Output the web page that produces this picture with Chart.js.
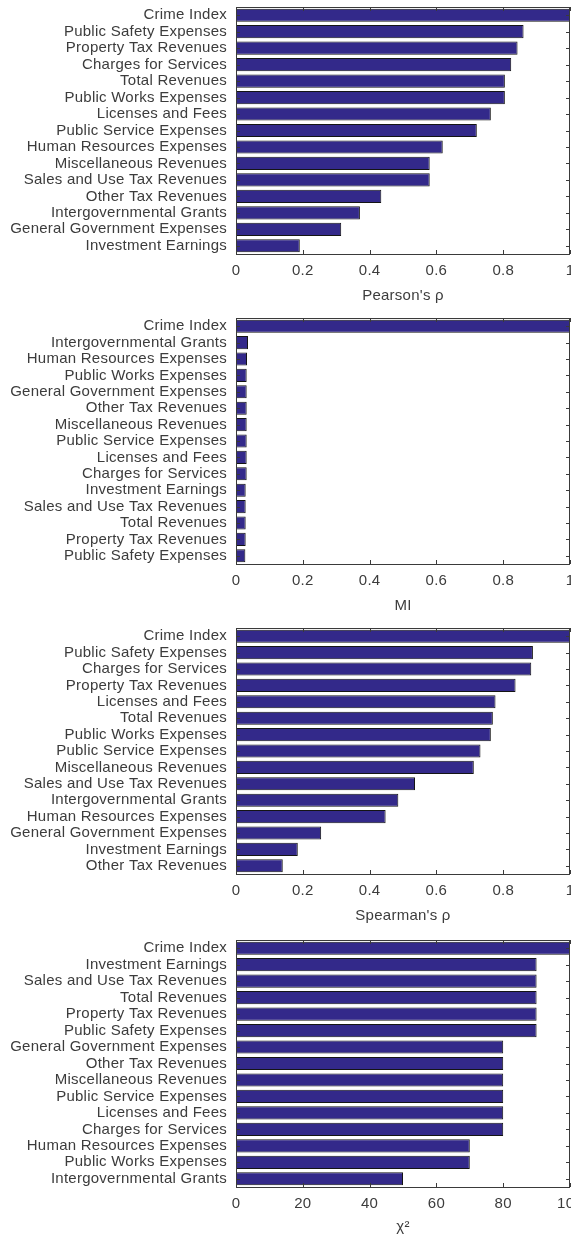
<!DOCTYPE html>
<html>
<head>
<meta charset="utf-8">
<title>Feature ranking</title>
<script src="https://cdn.jsdelivr.net/npm/chart.js@4/dist/chart.umd.min.js"></script>
<style>
  html, body { margin: 0; padding: 0; background: #fff; overflow: hidden; }
  canvas { display: block; }
</style>
</head>
<body>
<canvas id="pearson" width="590" height="310"></canvas>
<canvas id="mi" width="590" height="310"></canvas>
<canvas id="spearman" width="590" height="310"></canvas>
<canvas id="chi2" width="590" height="311"></canvas>
<script>
// Pearson correlation with the crime index
const pearsonLabels = [
  'Crime Index', 'Public Safety Expenses', 'Property Tax Revenues', 'Charges for Services',
  'Total Revenues', 'Public Works Expenses', 'Licenses and Fees', 'Public Service Expenses',
  'Human Resources Expenses', 'Miscellaneous Revenues', 'Sales and Use Tax Revenues',
  'Other Tax Revenues', 'Intergovernmental Grants', 'General Government Expenses', 'Investment Earnings'
];
const pearsonValues = [1, 0.861, 0.843, 0.824, 0.805, 0.805, 0.763, 0.721, 0.619, 0.58, 0.58, 0.435, 0.371, 0.315, 0.191];

// mutual information
const miLabels = [
  'Crime Index', 'Intergovernmental Grants', 'Human Resources Expenses', 'Public Works Expenses',
  'General Government Expenses', 'Other Tax Revenues', 'Miscellaneous Revenues', 'Public Service Expenses',
  'Licenses and Fees', 'Charges for Services', 'Investment Earnings', 'Sales and Use Tax Revenues',
  'Total Revenues', 'Property Tax Revenues', 'Public Safety Expenses'
];
const miValues = [1, 0.036, 0.033, 0.032, 0.032, 0.032, 0.032, 0.032, 0.032, 0.032, 0.029, 0.029, 0.029, 0.029, 0.028];

// Spearman rank correlation
const spearmanLabels = [
  'Crime Index', 'Public Safety Expenses', 'Charges for Services', 'Property Tax Revenues',
  'Licenses and Fees', 'Total Revenues', 'Public Works Expenses', 'Public Service Expenses',
  'Miscellaneous Revenues', 'Sales and Use Tax Revenues', 'Intergovernmental Grants',
  'Human Resources Expenses', 'General Government Expenses', 'Investment Earnings', 'Other Tax Revenues'
];
const spearmanValues = [1, 0.889, 0.884, 0.837, 0.777, 0.769, 0.763, 0.732, 0.712, 0.536, 0.486, 0.448, 0.255, 0.185, 0.14];

// chi-squared score
const chiLabels = [
  'Crime Index', 'Investment Earnings', 'Sales and Use Tax Revenues', 'Total Revenues',
  'Property Tax Revenues', 'Public Safety Expenses', 'General Government Expenses', 'Other Tax Revenues',
  'Miscellaneous Revenues', 'Public Service Expenses', 'Licenses and Fees', 'Charges for Services',
  'Human Resources Expenses', 'Public Works Expenses', 'Intergovernmental Grants'
];
const chiValues = [100, 90, 90, 90, 90, 90, 80, 80, 80, 80, 80, 80, 70, 70, 50];

const barColor = '#33298a';
const edgeColor = '#141414';
const axisColor = '#3a3a3a';
const textColor = '#3c3c3c';
const font = { family: '"Liberation Sans", Arial, Helvetica, sans-serif', size: 15 };

// closed box around the plot with short inward ticks, like the old plotting style
const boxPlugin = {
  id: 'box',
  beforeDraw(chart) {
    // slightly looser text, closer to the screen font of the original plots
    chart.ctx.letterSpacing = '0.25px';
  },
  afterDatasetsDraw(chart) {
    const { ctx, chartArea: a, scales: { x, y } } = chart;
    const len = 4;
    ctx.save();
    ctx.strokeStyle = axisColor;
    ctx.lineWidth = 1;
    ctx.beginPath();
    x.ticks.forEach((t, i) => {
      const px = Math.round(x.getPixelForTick(i)) + 0.5;
      ctx.moveTo(px, a.bottom); ctx.lineTo(px, a.bottom - len);
      ctx.moveTo(px, a.top); ctx.lineTo(px, a.top + len);
    });
    y.ticks.forEach((t, i) => {
      const py = Math.round(y.getPixelForTick(i)) + 0.5;
      ctx.moveTo(a.right, py); ctx.lineTo(a.right - len, py);
      ctx.moveTo(a.left, py); ctx.lineTo(a.left + len, py);
    });
    ctx.stroke();
    ctx.strokeRect(Math.round(a.left) + 0.5, Math.round(a.top) + 0.5,
      Math.round(a.right - a.left) - 1, Math.round(a.bottom - a.top));
    ctx.restore();
  }
};

function makeChart(id, labels, values, max, step, title, top, axisHeight) {
  return new Chart(document.getElementById(id), {
    type: 'bar',
    data: {
      labels: labels,
      datasets: [{
        data: values,
        backgroundColor: barColor,
        borderColor: edgeColor,
        borderWidth: 1,
        borderSkipped: false,
        barPercentage: 0.8,
        categoryPercentage: 1
      }]
    },
    options: {
      indexAxis: 'y',
      responsive: false,
      animation: false,
      layout: { padding: { top: top, right: 20, bottom: 0, left: 0 } },
      plugins: { legend: { display: false }, tooltip: { enabled: false } },
      scales: {
        x: {
          min: 0,
          max: max,
          grid: { display: false, drawTicks: false },
          border: { display: false },
          ticks: {
            stepSize: step,
            color: textColor,
            font: font,
            padding: 8,
            maxRotation: 0,
            // 0, 0.2, ... 1 rather than 1.0
            callback: v => String(Number(v.toFixed(2)))
          },
          title: { display: true, text: title, color: textColor, font: font, padding: { top: 4, bottom: 5 } },
          afterFit(s) {
            s.height = axisHeight;
            s.paddingLeft = 0;
            s.paddingRight = 0;
          }
        },
        y: {
          grid: { display: false, drawTicks: false },
          border: { display: false },
          ticks: { color: textColor, font: font, padding: 9, autoSkip: false },
          afterFit(s) {
            s.width = 236;
            s.paddingTop = 0;
            s.paddingBottom = 0;
          }
        }
      }
    },
    plugins: [boxPlugin]
  });
}

makeChart('pearson', pearsonLabels, pearsonValues, 1, 0.2, "Pearson's ρ", 7, 56);
makeChart('mi', miLabels, miValues, 1, 0.2, 'MI', 8, 56);
makeChart('spearman', spearmanLabels, spearmanValues, 1, 0.2, "Spearman's ρ", 8, 56);
makeChart('chi2', chiLabels, chiValues, 100, 20, 'χ²', 10, 54);
</script>
</body>
</html>
